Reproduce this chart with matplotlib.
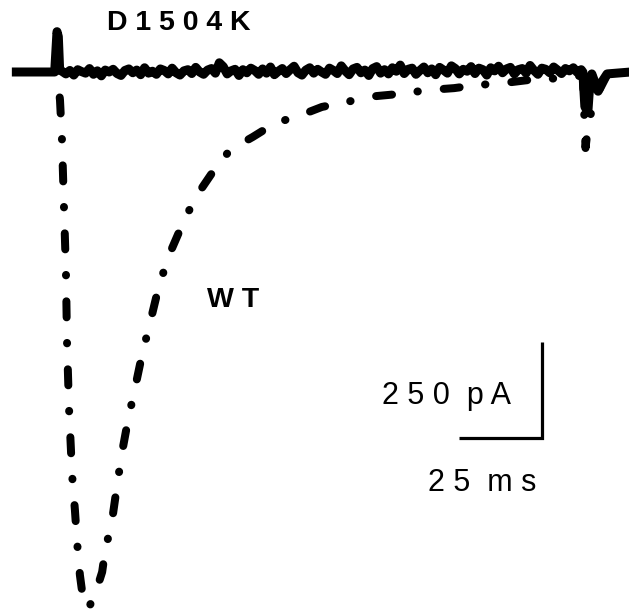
import numpy as np
import matplotlib
matplotlib.use("Agg")
import matplotlib.pyplot as plt

plt.rcParams['font.family'] = ['Liberation Sans', 'DejaVu Sans']

# ---- data (time in ms, current in pA) ----
# WT trace
wt_t = [-0.3, 0.6, 1.2, 1.8, 2.4, 2.7, 3.3, 3.9, 4.2, 5.1, 5.7, 6.6, 7.8, 9.3,
        11.4, 13.3, 14.2, 16.3, 17.8, 19.3, 21.1, 23.2, 25.3, 27.7, 30.1, 33.1,
        37.0, 41.3, 46.4, 51.8, 58.7, 65.4, 72.3, 79.5, 88.0, 95.5, 103.0,
        111.4, 119.3, 126.2, 134.0, 141.6, 151.2, 157.2, 158.1, 158.9, 159.9,
        162.3, 165.4, 172.5]
wt_i = [0, -73, -177, -352, -523, -698, -872, -984, -1044, -1141, -1219, -1310,
        -1388, -1395, -1354, -1302, -1247, -1167, -1076, -990, -906, -823, -737,
        -654, -568, -484, -406, -328, -263, -203, -169, -133, -115, -91, -76,
        -63, -57, -47, -42, -34, -29, -21, -16, -10, -13, -198, -125, -60, -8, 0]

# D1504K trace: pre-pulse, capacitive spike, noisy plateau, tail
d_pre_t = [-13.9, -1.0, -0.6, -0.3, 0.1, 0.5]
d_pre_i = [0, 0, 60, 105, 92, 5]
d_noise_i = [2, -5, 4, -8, 6, 1, -3, 9, -6, 3, -10, 5, 0, 7, -4, -9, 4, 8, -2, 5,
             -7, 11, -3, 2, -6, 8, 4, -5, 10, -2, -8, 3, 6, -4, 12, 0, -6, 5, 9, -3,
             24, 14, -5, 3, 7, -9, 6, -2, 10, 4, -6, 8, -3, 13, -7, 2, 9, -4, 6, 15,
             -2, -8, 5, 11, -3, 7, 0, -6, 10, 4, -4, 16, 3, -7, 8, 12, -2, 5, -9, 9,
             14, -3, 6, -5, 11, 2, 18, -4, 7, 10, -6, 4, 13, -2, 8, -7, 12, 5, -3, 16,
             9, -5, 7, 2, 14, -4, 10, 6, -8, 11, 3, 15, -2, 8, 12, -5, 6, 9, -3, 17,
             4, -6, 10, 7, -2, 13, 5, -4, 9, 3, 11, -1, 6]
d_noise_t = np.linspace(1.2, 157.6, len(d_noise_i))
d_post_t = [158.1, 158.7, 159.6, 160.2, 160.8, 162.7, 163.9, 165.4, 172.5]
d_post_i = [0, -90, -105, -30, -5, -50, -25, -5, 0]

d_t = list(d_pre_t) + list(d_noise_t) + d_post_t
d_i = list(d_pre_i) + list(d_noise_i) + d_post_i

# scale bar
bar_t, bar_i = 25, 250
bar_x_end, bar_y0 = 145.8, -952

W, H = 629, 610
fig = plt.figure(figsize=(W / 100, H / 100), dpi=100)
ax = fig.add_axes([0, 0, 1, 1])
ax.set_xlim(-17.47, 172.0)
ax.set_ylim(-1401, 187.5)
ax.axis('off')

px = 0.72  # points per pixel

ax.plot(d_t, d_i, color='black', lw=9 * px, solid_joinstyle='round',
        solid_capstyle='butt')

lw_wt = 8.0
ax.plot(wt_t, wt_i, color='black', lw=lw_wt * px,
        linestyle=(5.3, (2.0, 3.2, 0.05, 3.25)),
        dash_capstyle='round', dash_joinstyle='round')

ax.plot([bar_x_end - bar_t, bar_x_end, bar_x_end],
        [bar_y0, bar_y0, bar_y0 + bar_i], color='black', lw=3.2 * px,
        solid_joinstyle='miter', solid_capstyle='butt')


def ftext(x, y, s, **kw):
    fig.text(x / W, 1 - y / H, s, ha='left', va='baseline', color='black', **kw)


ftext(107, 30, "D 1 5 0 4 K", fontsize=20.5, fontweight='bold')
ftext(207, 307, "W T", fontsize=20.5, fontweight='bold')
ftext(382, 404, "2 5 0  p A", fontsize=22)
ftext(428, 491, "2 5  m s", fontsize=22)

fig.savefig("out.png", dpi=100)
